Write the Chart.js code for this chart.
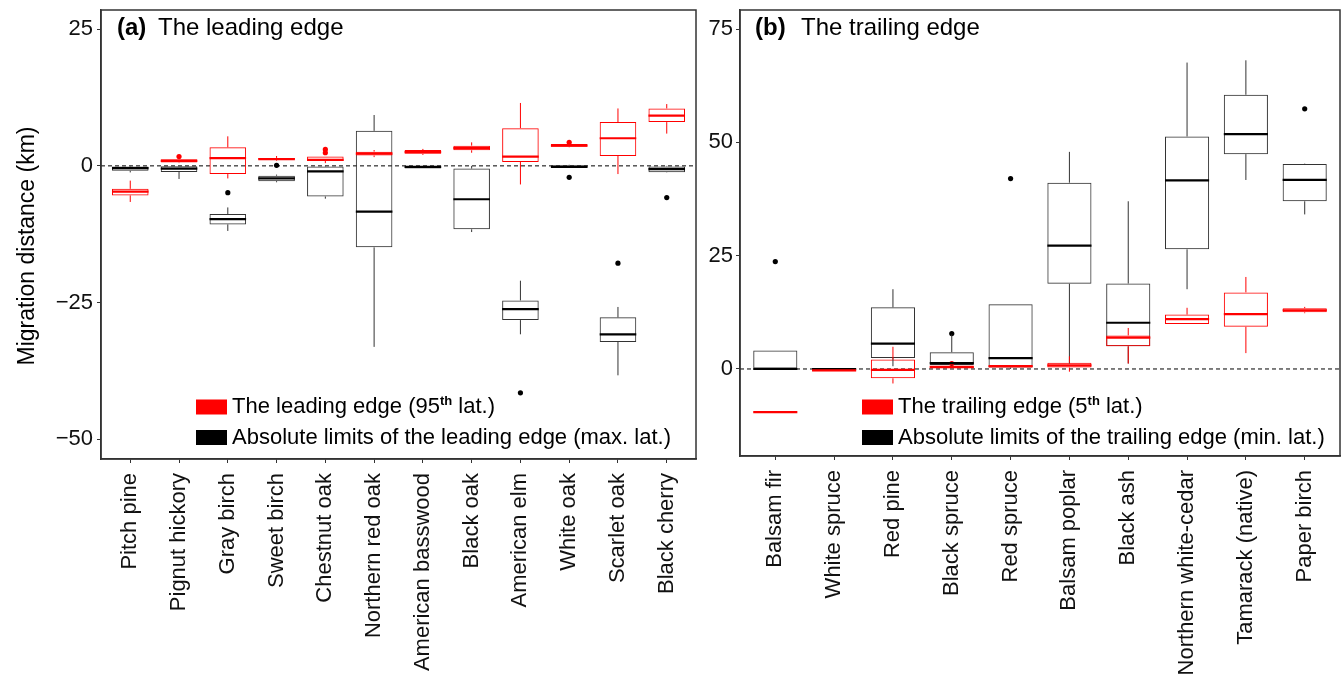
<!DOCTYPE html>
<html><head><meta charset="utf-8">
<script src="https://cdn.jsdelivr.net/npm/chart.js@4.4.1/dist/chart.umd.min.js"></script>
<style>
html,body{margin:0;padding:0;background:#fff;}
#wrap{position:relative;width:1344px;height:680px;overflow:hidden;background:#fff;}
#c1{position:absolute;left:0;top:0;width:700px;height:680px;}
#c2{position:absolute;left:700px;top:0;width:644px;height:680px;}
</style></head><body>
<div id="wrap"><canvas id="c1" width="700" height="680"></canvas><canvas id="c2" width="644" height="680"></canvas></div>
<script>
// ---------- Panel (a): the leading edge ----------
const leadCategories = ['Pitch pine','Pignut hickory','Gray birch','Sweet birch','Chestnut oak','Northern red oak','American basswood','Black oak','American elm','White oak','Scarlet oak','Black cherry'];
// red: 95th latitude
const lead95Low    = [-6.6, 0.5, -2.3, 0.95, 0.5, 1.6, 2.0, 2.4, -3.4, 3.4, -1.5, 5.9];
const lead95Q1     = [-5.4, 0.6, -1.5, 1.1, 0.9, 1.9, 2.2, 2.85, 0.7, 3.5, 1.8, 8.0];
const lead95Median = [-4.7, 0.9, 1.4, 1.25, 1.1, 2.25, 2.5, 3.25, 1.7, 3.7, 5.05, 9.2];
const lead95Q3     = [-4.2, 1.2, 3.4, 1.45, 1.7, 2.6, 2.9, 3.7, 6.9, 4.0, 8.0, 10.5];
const lead95High   = [-2.7, 1.3, 5.4, 1.8, 1.7, 2.9, 3.1, 4.3, 11.5, 4.0, 10.5, 11.3];
const lead95Outliers = [[1, 1.7], [4, 2.4], [4, 3.0], [9, 4.3]];
// black: max latitude
const leadMaxLow    = [-1.2, -2.4, -11.9, -3.0, -6.0, -33.1, -0.5, -12.1, -30.8, -0.4, -38.3, -1.2];
const leadMaxQ1     = [-0.9, -1.1, -10.7, -2.8, -5.6, -14.9, -0.5, -11.6, -28.2, -0.4, -32.2, -1.15];
const leadMaxMedian = [-0.4, -0.5, -9.75, -2.3, -1.0, -8.35, -0.2, -6.1, -26.2, -0.2, -30.8, -0.6];
const leadMaxQ3     = [-0.1, 0, -8.8, -1.8, -0.1, 6.4, 0, -0.5, -24.6, 0.1, -27.7, -0.1];
const leadMaxHigh   = [0, 0, -7.6, -1.6, 0, 9.3, 0, 0, -21.0, 0.2, -25.8, 0];
const leadMaxOutliers = [[2, -4.9], [3, 0.1], [8, -41.5], [9, -2.1], [10, -17.8], [11, -5.8]];
const leadYTicks = [-50, -25, 0, 25];

// ---------- Panel (b): the trailing edge ----------
const trailCategories = ['Balsam fir','White spruce','Red pine','Black spruce','Red spruce','Balsam poplar','Black ash','Northern white-cedar','Tamarack (native)','Paper birch'];
// red: 5th latitude
const trail5Low    = [-9.5, -0.5, -3.2, 0.1, 0.3, -0.6, 1.2, 9.9, 3.5, 12.3];
const trail5Q1     = [-9.5, -0.5, -2.05, 0.1, 0.3, 0.3, 5.0, 9.9, 9.3, 12.5];
const trail5Median = [-9.5, -0.3, -0.2, 0.45, 0.6, 0.8, 6.9, 11.0, 12.1, 12.96];
const trail5Q3     = [-9.5, 0, 2.1, 0.6, 0.9, 1.4, 7.4, 12.0, 16.9, 13.4];
const trail5High   = [-9.5, 0, 4.9, 0.6, 0.9, 2.8, 9.05, 13.5, 20.3, 13.7];
const trail5Outliers = [[3, 1.2]];
// black: min latitude
const trailMinLow    = [0, 0, 0.6, 0.3, 0, 1.2, 1.2, 17.6, 41.7, 34.1];
const trailMinQ1     = [0, 0, 2.4, 0.9, 0.3, 18.8, 5.0, 26.4, 47.4, 37.0];
const trailMinMedian = [0, 0, 5.6, 1.3, 2.4, 27.2, 10.2, 41.6, 51.8, 41.7];
const trailMinQ3     = [4.1, 0, 13.6, 3.7, 14.3, 41.1, 18.85, 51.3, 60.5, 45.2];
const trailMinHigh   = [4.1, 0, 17.6, 7.6, 14.3, 47.9, 37.0, 67.6, 68.1, 45.3];
const trailMinOutliers = [[0, 23.7], [3, 7.8], [4, 42.0], [9, 57.4]];
const trailYTicks = [0, 25, 50, 75];

const FONT = '"Liberation Sans", Arial, Helvetica, sans-serif';
Chart.defaults.font.family = FONT;
const RED = '#ff0000';
const BLACK = '#000000';
const BOXBLACK = '#333333';

function makePanel(canvas, o) {
  const n = o.cats.length;
  const boxData = (q1, q3) => o.cats.map((_, i) => ({x: i, y: [q1[i], q3[i]]}));
  const ptData = (arr) => arr.map(([i, v]) => ({x: i, y: v}));

  const boxParts = {
    id: 'boxParts',
    beforeDatasetsDraw(chart) {
      const {ctx, chartArea: a, scales: {y}} = chart;
      const y0 = y.getPixelForValue(0);
      ctx.save();
      ctx.strokeStyle = '#000'; ctx.lineWidth = 1; ctx.setLineDash([4, 3]);
      ctx.beginPath(); ctx.moveTo(a.left, y0); ctx.lineTo(a.right, y0); ctx.stroke();
      ctx.restore();
    },
    afterDatasetsDraw(chart) {
      const {ctx, scales: {y}} = chart;
      const drawSet = (dsIndex, s, color, medColor) => {
        const meta = chart.getDatasetMeta(dsIndex);
        meta.data.forEach((bar, i) => {
          const p = bar.getProps(['x', 'width'], true);
          ctx.save();
          ctx.strokeStyle = color; ctx.lineWidth = 1;
          ctx.beginPath();
          ctx.moveTo(p.x, y.getPixelForValue(s.q3[i])); ctx.lineTo(p.x, y.getPixelForValue(s.hi[i]));
          ctx.moveTo(p.x, y.getPixelForValue(s.q1[i])); ctx.lineTo(p.x, y.getPixelForValue(s.lo[i]));
          ctx.stroke();
          ctx.strokeStyle = medColor; ctx.lineWidth = 2.2;
          const ym = y.getPixelForValue(s.med[i]);
          ctx.beginPath(); ctx.moveTo(p.x - p.width / 2, ym); ctx.lineTo(p.x + p.width / 2, ym); ctx.stroke();
          ctx.restore();
        });
      };
      drawSet(1, o.black, BOXBLACK, BLACK);
      drawSet(0, o.red, RED, RED);
    },
    afterDraw(chart) {
      const {ctx, chartArea: a} = chart;
      ctx.save();
      // panel frame
      ctx.strokeStyle = '#333'; ctx.lineWidth = 1.5;
      ctx.strokeRect(a.left, a.top, a.right - a.left, a.bottom - a.top);
      // panel title
      ctx.fillStyle = '#000'; ctx.textBaseline = 'middle'; ctx.textAlign = 'left';
      ctx.font = 'bold 24px ' + FONT;
      ctx.fillText(o.tag, o.titleX, 28);
      ctx.font = '24px ' + FONT;
      ctx.fillText(o.title, o.titleX2, 28);
      // legend
      const items = [{c: RED, parts: o.leg1}, {c: BLACK, parts: o.leg2}];
      items.forEach((it, k) => {
        const yc = o.legY + k * 30.5;
        ctx.fillStyle = it.c;
        ctx.fillRect(o.legX, yc - 7.5, 31, 15);
        ctx.fillStyle = '#000';
        let x = o.legX + 36;
        it.parts.forEach(pt => {
          if (pt.sup) {
            ctx.font = 'bold 13px ' + FONT;
            ctx.fillText(pt.t, x, yc - 6);
          } else {
            ctx.font = '22px ' + FONT;
            ctx.fillText(pt.t, x, yc);
          }
          x += ctx.measureText(pt.t).width;
        });
      });
      // y-axis title
      if (o.yTitle) {
        ctx.save();
        ctx.translate(28, 246);
        ctx.rotate(-Math.PI / 2);
        ctx.textAlign = 'center'; ctx.textBaseline = 'middle';
        ctx.font = '23px ' + FONT; ctx.fillStyle = '#000';
        ctx.fillText(o.yTitle, 0, 0);
        ctx.restore();
      }
      ctx.restore();
    }
  };

  return new Chart(canvas, {
    type: 'bar',
    data: {
      datasets: [
        {type: 'bar', data: boxData(o.red.q1, o.red.q3), backgroundColor: 'rgba(0,0,0,0)', borderColor: RED, borderWidth: 1, borderSkipped: false, grouped: false, categoryPercentage: 0.75, barPercentage: 1, order: 0},
        {type: 'bar', data: boxData(o.black.q1, o.black.q3), backgroundColor: 'rgba(0,0,0,0)', borderColor: BOXBLACK, borderWidth: 1, borderSkipped: false, grouped: false, categoryPercentage: 0.75, barPercentage: 1, order: 1},
        {type: 'scatter', data: ptData(o.red.out), pointRadius: 2.6, pointBackgroundColor: RED, pointBorderWidth: 0, order: 0},
        {type: 'scatter', data: ptData(o.black.out), pointRadius: 2.6, pointBackgroundColor: BLACK, pointBorderWidth: 0, order: 1}
      ]
    },
    options: {
      responsive: false, animation: false, devicePixelRatio: 1,
      layout: {padding: {left: 0, right: o.padRight, top: 10, bottom: 0}},
      plugins: {legend: {display: false}, tooltip: {enabled: false}},
      scales: {
        x: {
          type: 'linear', min: -0.6, max: n - 1 + 0.6, offset: false,
          afterBuildTicks: s => { s.ticks = o.cats.map((_, i) => ({value: i})); },
          afterFit: s => { s.height = o.xHeight; s.paddingLeft = 0; s.paddingRight = 0; s.paddingTop = 0; s.paddingBottom = 0; },
          grid: {drawOnChartArea: false, drawTicks: true, tickLength: 4, color: '#333', offset: false},
          border: {display: true, color: '#333', width: 1.5},
          ticks: {autoSkip: false, maxRotation: 90, minRotation: 90, padding: 10, color: '#111', font: {size: 22},
                  callback: (v, i) => o.cats[i]}
        },
        y: {
          type: 'linear', min: o.yMin, max: o.yMax,
          afterBuildTicks: s => { s.ticks = o.yTicks.map(v => ({value: v})); },
          afterFit: s => { s.width = o.yWidth; s.paddingTop = 0; s.paddingBottom = 0; s.paddingLeft = 0; s.paddingRight = 0; },
          grid: {drawOnChartArea: false, drawTicks: true, tickLength: 4, color: '#333'},
          border: {display: true, color: '#333', width: 1.5},
          ticks: {padding: o.yPad, color: '#111', font: {size: 22}, callback: v => (v < 0 ? '\u2212' + Math.abs(v) : String(v))}
        }
      }
    },
    plugins: [boxParts]
  });
}

makePanel(document.getElementById('c1'), {
  cats: leadCategories,
  red: {lo: lead95Low, q1: lead95Q1, med: lead95Median, q3: lead95Q3, hi: lead95High, out: lead95Outliers},
  black: {lo: leadMaxLow, q1: leadMaxQ1, med: leadMaxMedian, q3: leadMaxQ3, hi: leadMaxHigh, out: leadMaxOutliers},
  yMin: -53.6, yMax: 28.5, yTicks: leadYTicks,
  yWidth: 101, yPad: 4, xHeight: 221, padRight: 4,
  tag: '(a)', title: 'The leading edge', titleX: 117, titleX2: 158,
  legX: 196, legY: 407,
  leg1: [{t: 'The leading edge (95'}, {t: 'th', sup: true}, {t: ' lat.)'}],
  leg2: [{t: 'Absolute limits of the leading edge (max. lat.)'}],
  yTitle: 'Migration distance (km)'
});

makePanel(document.getElementById('c2'), {
  cats: trailCategories,
  red: {lo: trail5Low, q1: trail5Q1, med: trail5Median, q3: trail5Q3, hi: trail5High, out: trail5Outliers},
  black: {lo: trailMinLow, q1: trailMinQ1, med: trailMinMedian, q3: trailMinQ3, hi: trailMinHigh, out: trailMinOutliers},
  yMin: -19.2, yMax: 79.2, yTicks: trailYTicks,
  yWidth: 40, yPad: 3, xHeight: 224, padRight: 3,
  tag: '(b)', title: 'The trailing edge', titleX: 55, titleX2: 101,
  legX: 162, legY: 407,
  leg1: [{t: 'The trailing edge (5'}, {t: 'th', sup: true}, {t: ' lat.)'}],
  leg2: [{t: 'Absolute limits of the trailing edge (min. lat.)'}],
  yTitle: null
});
</script>
</body></html>
